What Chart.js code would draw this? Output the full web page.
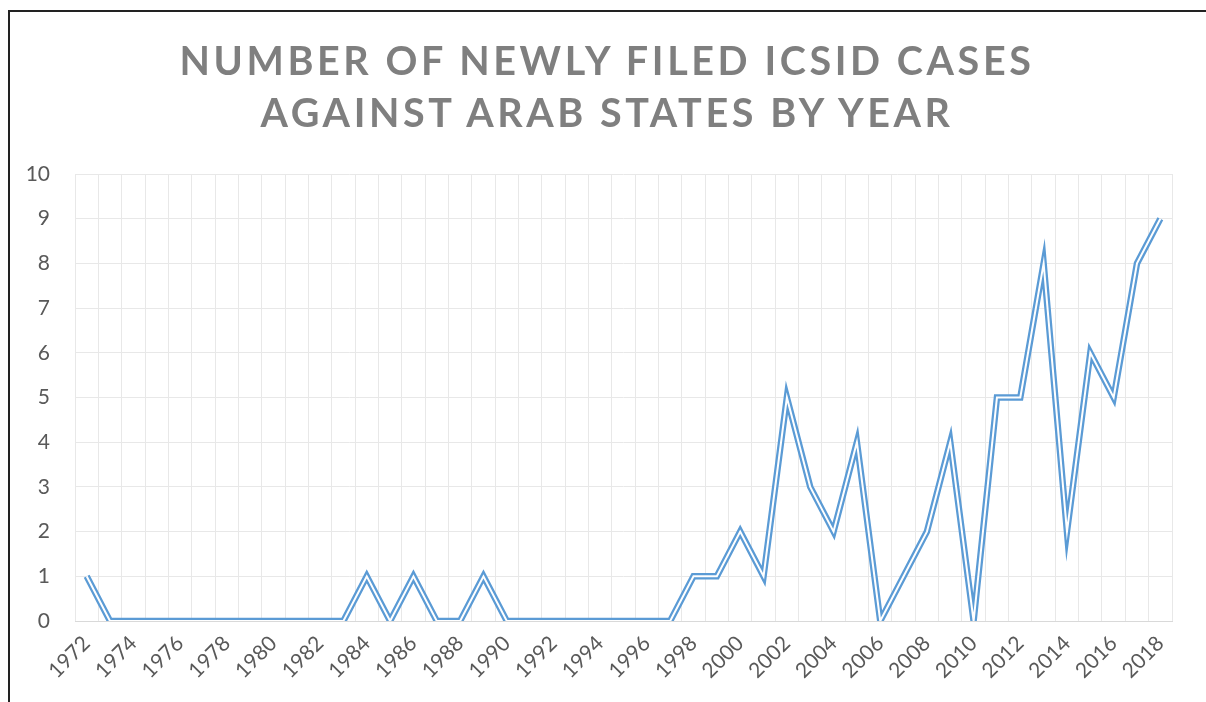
<!DOCTYPE html>
<html>
<head>
<meta charset="utf-8">
<script src="https://cdn.jsdelivr.net/npm/chart.js@4/dist/chart.umd.min.js"></script>
<style>
  html, body { margin: 0; padding: 0; background: #fff; }
  #wrap { position: relative; width: 1206px; height: 702px; overflow: hidden; background: #fff; }
  #frame { position: absolute; left: 8px; top: 10px; width: 1300px; height: 800px;
           border-left: 2px solid #222; border-top: 2px solid #222; box-sizing: border-box; }
  #title { position: absolute; left: 0; top: 34px; width: 1214px; text-align: center;
           font-family: Lato, "Open Sans", sans-serif; font-weight: 700; font-size: 39.5px;
           letter-spacing: 3.6px; line-height: 52px; color: #7f7f7f; }
  #c { position: absolute; left: 0; top: 0; }
</style>
</head>
<body>
<div id="wrap">
  <div id="frame"></div>
  <canvas id="c" width="1206" height="702"></canvas>
  <div id="title">NUMBER OF NEWLY FILED ICSID CASES<br>AGAINST ARAB STATES BY YEAR</div>
</div>
<script>
const years = [];
for (let y = 1972; y <= 2018; y++) years.push(String(y));
const cases = [
  1, 0, 0, 0, 0, 0, 0, 0, 0, 0, 0, 0,   // 1972-1983
  1, 0, 1, 0, 0, 1, 0, 0, 0, 0, 0, 0, 0, 0, // 1984-1997
  1, 1, 2, 1, 5, 3, 2, 4, 0, 1, 2, 4, 0, // 1998-2010
  5, 5, 8, 2, 6, 5, 8, 9                 // 2011-2018
];
const yTicks = [0,1,2,3,4,5,6,7,8,9,10];

const tickFont = { family: "Lato, 'Open Sans', sans-serif", size: 21 };

new Chart(document.getElementById('c'), {
  type: 'line',
  data: {
    labels: years,
    datasets: [
      { label: 'inner', data: cases, borderColor: '#ffffff', borderWidth: 2,
        pointRadius: 0, tension: 0, borderJoinStyle: 'miter', fill: false, order: 0 },
      { label: 'Cases', data: cases, borderColor: '#5B9BD5', borderWidth: 6.5,
        pointRadius: 0, tension: 0, borderJoinStyle: 'miter', fill: false, order: 1 }
    ]
  },
  options: {
    responsive: false,
    animation: false,
    layout: { padding: { left: 0, right: 34, top: 174, bottom: 0 } },
    plugins: { legend: { display: false }, tooltip: { enabled: false }, title: { display: false } },
    scales: {
      x: {
        type: 'category',
        offset: true,
        grid: { offset: true, color: '#e8e8e8', lineWidth: 1, drawTicks: false },
        border: { color: '#d9d9d9' },
        ticks: {
          autoSkip: false, minRotation: 45, maxRotation: 45, padding: 10,
          color: '#595959', font: tickFont,
          callback: function(v, i) { return i % 2 === 0 ? this.getLabelForValue(v) : ''; }
        },
        afterFit: s => { s.height = 81; }
      },
      y: {
        min: 0, max: 10,
        afterBuildTicks: s => { s.ticks = yTicks.map(v => ({ value: v })); },
        grid: { color: '#e8e8e8', lineWidth: 1, drawTicks: false },
        border: { display: false },
        ticks: { padding: 25, color: '#595959', font: tickFont },
        afterFit: s => { s.width = 75; }
      }
    }
  }
});
</script>
</body>
</html>
